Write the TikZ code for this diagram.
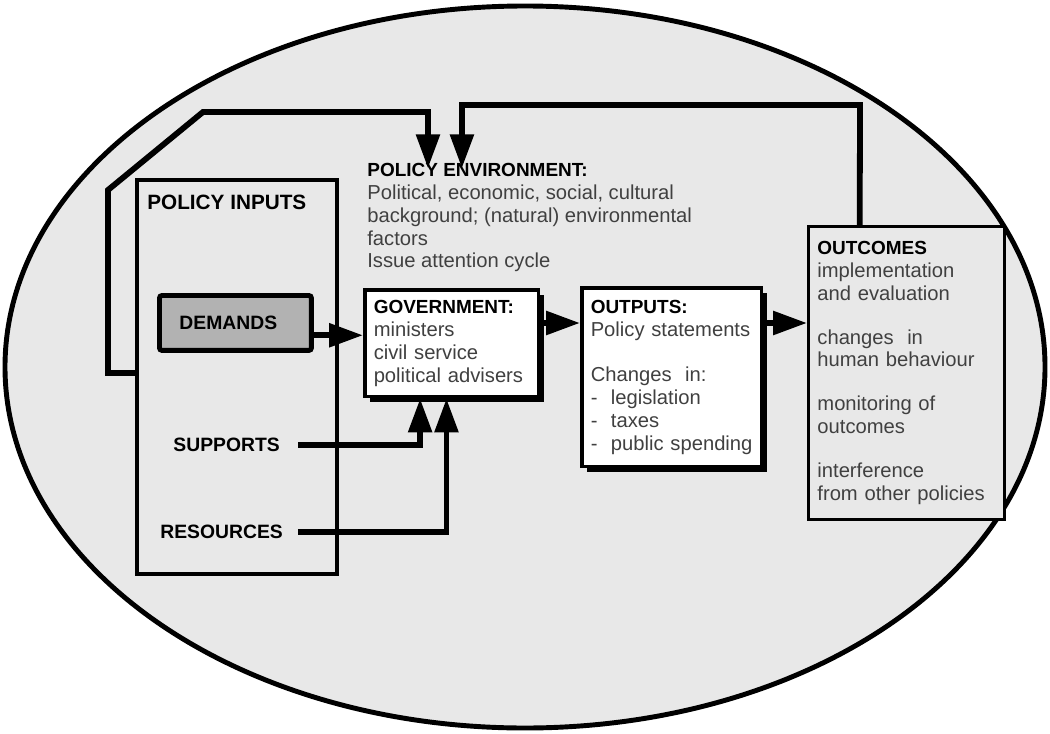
\documentclass[tikz,border=0pt]{standalone}
\usepackage{fontspec}
\setmainfont{Liberation Sans}
\usetikzlibrary{arrows.meta, positioning, calc, shadows}

\begin{document}
\begin{tikzpicture}[
    x=0.02cm, y=-0.02cm,
    every node/.style={font=\fontsize{11.5}{13}\selectfont, text=black!75},
    flow/.style={line width=3.3pt},
    arrow/.style={flow, -{Triangle[length=0.68cm, width=0.46cm]}},
    head/.style={font=\fontsize{10.8}{13}\selectfont\bfseries, text=black},
    label/.style={font=\fontsize{11}{13}\selectfont\bfseries, text=black},
    panel/.style={draw, line width=2pt, anchor=north west, align=left, inner xsep=0.18cm, inner ysep=0.2cm},
    shadowbox/.style={panel, fill=white,
        drop shadow={shadow xshift=3pt, shadow yshift=-3pt, fill=black, opacity=1}},
]
\useasboundingbox (0,0) rectangle (1050,733);

% Outer environment
\draw[line width=2.8pt, fill=gray!18] (525,367) ellipse [x radius=520, y radius=361];

% Policy inputs
\node[draw, line width=2.4pt, anchor=north west, minimum width=4cm, minimum height=7.88cm] (inputs) at (135,178) {};
\node[label, font=\fontsize{11.8}{13}\selectfont\bfseries, anchor=north west, inner sep=0pt] (inputsL) at (147,195) {POLICY INPUTS};
\node[draw, line width=2.8pt, fill=gray!60, rounded corners=1.5pt, anchor=north west,
      text width=2.24cm, inner xsep=0.4cm, minimum height=1.1cm, label] (demands) at (157,293) {DEMANDS};
\node[label, anchor=east] (supports) at (286,445) {SUPPORTS};
\node[label, anchor=east] (resources) at (289,532) {RESOURCES};

% Environment text
\node[anchor=north west, inner sep=0pt, align=left] (env) at (367,163)
    {\textbf{\color{black}\fontsize{10.8}{13}\selectfont POLICY ENVIRONMENT:}\\
     Political, economic, social, cultural\\
     background; (natural) environmental\\
     factors\\
     Issue attention cycle};

% Government and outputs
\node[shadowbox, text width=3.12cm, minimum height=2.14cm] (gov) at (363,288)
    {\textbf{\color{black}\fontsize{10.8}{13}\selectfont GOVERNMENT:}\\
     ministers\\
     \mbox{civil service}\\
     \mbox{political advisers}};
\node[shadowbox, text width=3.24cm, minimum height=3.58cm] (outputs) at (580,286)
    {\textbf{\color{black}\fontsize{10.8}{13}\selectfont OUTPUTS:}\\
     \mbox{Policy statements}\\[13pt]
     \mbox{Changes~~in:}\\
     \mbox{-~~legislation}\\
     \mbox{-~~taxes}\\
     \mbox{-~~public spending}};

% Outcomes
\node[panel, line width=1.6pt, fill=gray!18, text width=3.56cm, minimum height=5.86cm] (outcomes) at (807,225)
    {\textbf{\color{black}\fontsize{10.8}{13}\selectfont OUTCOMES}\\
     \mbox{implementation}\\
     \mbox{and evaluation}\\[12pt]
     \mbox{changes~~in}\\
     \mbox{human behaviour}\\[12pt]
     \mbox{monitoring of}\\
     \mbox{outcomes}\\[12pt]
     \mbox{interference}\\
     \mbox{from other policies}};

% Main flow
\coordinate (row) at (0,323);
\draw[arrow] ([yshift=-7pt]demands.east) -- ([yshift=-7pt]demands.east -| gov.west);
\draw[arrow] (gov.east |- row) -- (outputs.west |- row);
\draw[arrow] (outputs.east |- row) -- (outcomes.west |- row);
\draw[arrow] ([xshift=7pt]supports.east) -| ([xshift=-18pt]gov.south);
\draw[arrow] ([xshift=5pt]resources.east) -| ([xshift=-3pt]gov.south);

% Feedback loops
\draw[arrow] (inputs.west |- 0,373) -- (108,373) -- (108,190) -- (203,112) -- (428,112)
    -- ([xshift=34.7pt, yshift=-3pt]env.north west);
\draw[arrow] ([xshift=30pt]outcomes.north west) -- (860,105) -- (462,105)
    -- ([xshift=54pt, yshift=-3pt]env.north west);

\end{tikzpicture}
\end{document}
